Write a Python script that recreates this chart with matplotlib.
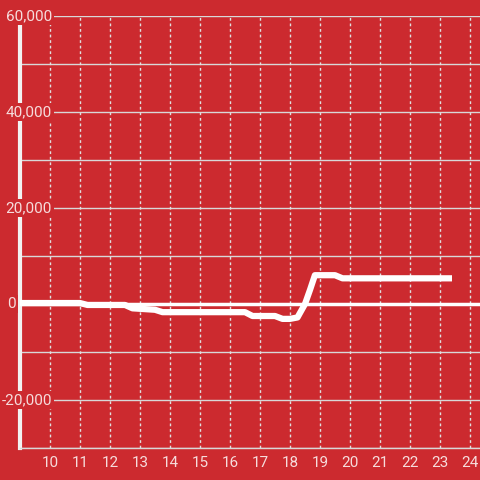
import matplotlib
matplotlib.use("Agg")
import matplotlib.pyplot as plt

# data
hours = [9.0, 11.0, 11.25, 12.5, 12.75, 13.0, 13.5, 13.75, 16.5, 16.75, 17.5, 17.75,
         18.0, 18.25, 18.5, 18.67, 18.83, 19.5, 19.75, 23.4]
values = [200, 200, -200, -200, -900, -1000, -1200, -1700, -1700, -2500, -2500, -3100,
          -3100, -2800, 0, 3000, 6000, 6000, 5350, 5350]
x_ticks = list(range(10, 25))
y_label_values = [60000, 40000, 20000, 0, -20000]
y_label_texts = ["60,000", "40,000", "20,000", "0", "-20,000"]

BG = "#CC2A2F"
TXT = "#F6DCDC"
plt.rcParams['font.family'] = ['Roboto', 'DejaVu Sans']

fig = plt.figure(figsize=(4.8, 4.8), dpi=100, facecolor=BG)
ax = fig.add_axes([20/480, 32/480, 460/480, 432/480])
ax.set_facecolor(BG)
ax.set_xlim(9, 9 + 460/30)
ax.set_ylim(-30000, 60000)

# grid
for yv in range(-30000, 60001, 10000):
    if yv == 0:
        continue
    ax.axhline(yv, color="#D8D8D8", lw=1.0, zorder=1)
for xv in x_ticks:
    ax.axvline(xv, color="#E0E0E0", lw=1.0, ls=(0, (2, 2)), zorder=1)
ax.axhline(0, color="white", lw=2.5, zorder=2)

ax.plot(hours, values, color="white", lw=4.5, solid_capstyle="butt",
        solid_joinstyle="round", zorder=3, clip_on=False)

for s in ["top", "right"]:
    ax.spines[s].set_visible(False)
ax.spines["bottom"].set_color("#D8D8D8")
ax.spines["bottom"].set_linewidth(1.0)
ax.spines["left"].set_color("#F2F2F2")
ax.spines["left"].set_linewidth(3)

ax.set_yticks([])
ax.set_xticks(x_ticks)
ax.set_xticklabels([str(t) for t in x_ticks])
ax.tick_params(axis="x", length=0, pad=6, colors=TXT, labelsize=11)

# y labels drawn over the axis line
for v, t in zip(y_label_values, y_label_texts):
    xr = 16 if t == "0" else 52
    fig.text(xr/480, 1 - (16 + (60000 - v) / 90000 * 432) / 480, t, ha="right", va="center",
             color=TXT, fontsize=11, zorder=10,
             bbox=dict(boxstyle="square,pad=0.1", fc=BG, ec="none"))

fig.savefig("out.png", dpi=100, facecolor=BG)
